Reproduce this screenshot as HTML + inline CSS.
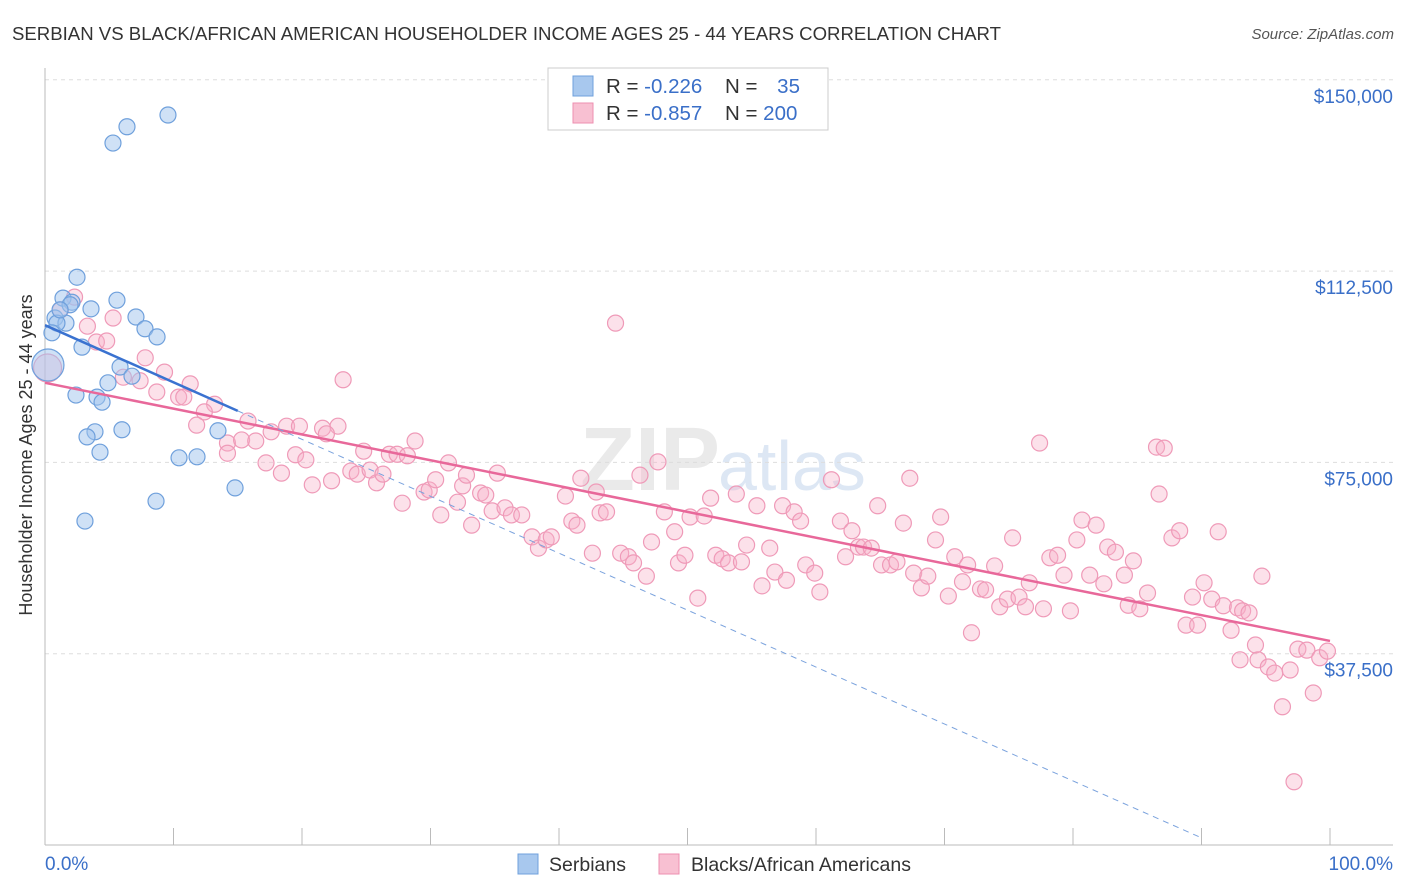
<!DOCTYPE html>
<html><head><meta charset="utf-8">
<style>
body{margin:0;background:#fff;font-family:"Liberation Sans",sans-serif;}
#wrap{position:relative;width:1406px;height:892px;overflow:hidden;}
</style></head>
<body>
<div id="wrap">
<svg id="chart" width="1406" height="892" xmlns="http://www.w3.org/2000/svg">
<text x="12" y="40" font-size="18" fill="#333" textLength="989" lengthAdjust="spacingAndGlyphs">SERBIAN VS BLACK/AFRICAN AMERICAN HOUSEHOLDER INCOME AGES 25 - 44 YEARS CORRELATION CHART</text>
<text x="1394" y="39" font-size="15" fill="#555" text-anchor="end" font-style="italic">Source: ZipAtlas.com</text>
<text x="720" y="490" font-size="90" fill="#ddd" text-anchor="end" font-weight="bold" opacity="0.6">ZIP</text>
<text x="718" y="490" font-size="70" fill="#c8d8ee" opacity="0.6">atlas</text>
<g id="grid"></g>
<g id="marks"></g>
<g id="trend"></g>
<text x="32" y="455" font-size="18" fill="#333" text-anchor="middle" transform="rotate(-90 32 455)">Householder Income Ages 25 - 44 years</text>
<text x="45" y="870" font-size="19" fill="#3a6fc8">0.0%</text>
<text x="1393" y="870" font-size="19" fill="#3a6fc8" text-anchor="end">100.0%</text>
<g>
<rect x="548" y="68" width="280" height="62" fill="#fff" stroke="#ccc"/>
<rect x="573" y="76" width="20" height="20" fill="#a8c8ee" stroke="#6fa0dc"/>
<rect x="573" y="103" width="20" height="20" fill="#f8c0d2" stroke="#ee8fb0"/>
<text x="606" y="93" font-size="20.5" fill="#333">R = <tspan fill="#3a6fc8">-0.226</tspan></text>
<text x="725" y="93" font-size="20.5" fill="#333">N = <tspan fill="#3a6fc8" dx="14">35</tspan></text>
<text x="606" y="120" font-size="20.5" fill="#333">R = <tspan fill="#3a6fc8">-0.857</tspan></text>
<text x="725" y="120" font-size="20.5" fill="#333">N = <tspan fill="#3a6fc8">200</tspan></text>
</g>
<g>
<rect x="518" y="854" width="20" height="20" fill="#a8c8ee" stroke="#6fa0dc"/>
<text x="549" y="871" font-size="19.5" fill="#333">Serbians</text>
<rect x="659" y="854" width="20" height="20" fill="#f8c0d2" stroke="#ee8fb0"/>
<text x="691" y="871" font-size="19.5" fill="#333">Blacks/African Americans</text>
</g>
</svg>
</div>
<script>
const yTicks=[37500,75000,112500,150000];
const yTickLabels=["$37,500","$75,000","$112,500","$150,000"];
const blueX=[9.57,6.38,5.29,2.49,1.40,2.10,5.60,3.58,7.08,0.78,1.63,0.93,7.78,8.72,0.54,2.88,5.84,4.90,6.77,2.41,4.05,4.44,5.99,3.89,3.27,4.28,13.46,10.43,11.83,8.64,14.79,3.11,0.23,1.95,1.17];
const blueY=[143.1,140.8,137.6,111.3,107.2,106.4,106.8,105.1,103.5,103.3,102.3,102.3,101.2,99.6,100.4,97.6,93.7,90.6,91.9,88.2,87.8,86.8,81.4,81.0,80.0,77.0,81.2,75.9,76.1,67.4,70.0,63.5,94.1,105.9,104.9];
const pinkX=[0.2,2.3,1.2,3.3,5.3,4.0,4.8,7.8,6.1,7.4,9.3,11.3,8.7,10.4,10.8,13.2,12.4,11.8,15.8,14.2,15.3,14.2,16.4,17.6,18.8,19.8,21.6,22.8,23.2,17.2,18.4,19.5,20.3,20.8,22.3,21.9,23.8,24.3,24.8,25.3,25.8,26.3,26.8,27.4,28.2,28.8,27.8,29.5,29.9,30.4,30.8,31.4,32.1,32.5,32.8,33.2,33.9,34.3,35.2,34.8,35.8,36.3,37.1,37.9,38.4,39.0,39.4,40.5,41.0,41.4,41.7,42.6,42.9,43.2,43.7,44.4,44.8,45.4,45.8,46.3,46.8,47.2,47.7,48.2,49.0,49.3,49.8,50.2,50.8,51.3,51.8,52.2,52.7,53.2,53.8,54.2,54.6,55.4,55.8,56.4,56.8,57.4,57.7,58.3,58.8,59.2,59.9,60.3,61.2,61.9,62.3,62.8,63.3,63.7,64.3,64.8,65.1,65.8,66.3,66.8,67.3,67.6,68.2,68.7,69.3,69.7,70.3,70.8,71.4,71.8,72.1,72.8,73.2,73.9,74.3,74.9,75.3,75.8,76.3,76.6,77.4,77.7,78.2,78.8,79.3,79.8,80.3,80.7,81.3,81.8,82.4,82.7,83.3,84.0,84.3,84.7,85.2,85.8,86.5,87.1,86.7,87.7,88.3,88.8,89.3,89.7,90.2,90.8,91.3,91.7,92.3,92.8,93.2,93.7,94.2,94.7,94.4,95.2,95.7,96.3,96.9,97.5,98.2,98.7,99.2,99.8,97.2,93.0];
const pinkY=[93.5,107.4,104.9,101.7,103.3,98.6,98.8,95.5,91.7,91.0,92.7,90.4,88.8,87.8,87.8,86.4,84.9,82.3,83.1,78.8,79.4,76.8,79.2,81.0,82.1,82.1,81.7,82.1,91.2,74.9,72.9,76.5,75.5,70.6,71.4,80.6,73.3,72.7,77.2,73.5,71.0,72.7,76.6,76.6,76.3,79.2,67.0,69.2,69.6,71.6,64.7,74.9,67.2,70.4,72.5,62.7,69.0,68.6,72.9,65.5,66.1,64.7,64.7,60.4,58.2,59.8,60.4,68.4,63.5,62.7,71.9,57.2,69.2,65.1,65.3,102.3,57.2,56.5,55.3,72.5,52.7,59.4,75.1,65.3,61.4,55.3,56.8,64.3,48.4,64.5,68.0,56.8,56.1,55.3,68.8,55.5,58.8,66.5,50.8,58.2,53.5,66.5,51.9,65.3,63.5,54.9,53.3,49.6,71.6,63.5,56.5,61.6,58.4,58.4,58.2,66.5,54.9,54.9,55.5,63.1,71.9,53.3,50.4,52.7,59.8,64.3,48.8,56.5,51.6,54.9,41.6,50.2,50.0,54.7,46.7,48.2,60.2,48.6,46.7,51.4,78.8,46.3,56.3,56.8,52.9,45.9,59.8,63.7,52.9,62.7,51.2,58.4,57.4,52.9,47.0,55.7,46.3,49.4,78.0,77.8,68.8,60.2,61.6,43.1,48.6,43.1,51.4,48.2,61.4,46.9,42.1,46.5,45.9,45.5,39.2,52.7,36.3,34.9,33.7,27.1,34.3,38.4,38.2,29.8,36.7,38.0,12.4,36.3];
const blueTrend=[0,101.9,15,85.1,90,1.4];
const pinkTrend=[0,90.6,100,40.0];
const NS="http://www.w3.org/2000/svg";
const X0=45,X1=1330,YB=845,PPK=191.3/37.5;
const xs=p=>X0+(X1-X0)*p/100;
const ys=k=>YB-k*PPK;
function mk(tag,attrs,parent){const e=document.createElementNS(NS,tag);for(const k in attrs)e.setAttribute(k,attrs[k]);parent.appendChild(e);return e;}
const grid=document.getElementById('grid'),marks=document.getElementById('marks'),trend=document.getElementById('trend');
yTicks.forEach((t,i)=>{
 const l=mk('line',{x1:X0,x2:1393,y1:ys(t/1000),y2:ys(t/1000),stroke:'#ddd','stroke-dasharray':'4,4'},grid);
 
 
 const tx=mk('text',{x:1393,y:ys(t/1000)+23,'font-size':19,fill:'#3a6fc8','text-anchor':'end'},grid);
 tx.textContent=yTickLabels[i];
 
 
});
const ax=mk('line',{x1:X0,x2:X0,y1:68,y2:YB,stroke:'#bbb'},grid);


const bx=mk('line',{x1:X0,x2:1393,y1:YB,y2:YB,stroke:'#bbb'},grid);


for(let i=0;i<=10;i++){const t=mk('line',{x1:xs(i*10),x2:xs(i*10),y1:828,y2:YB,stroke:'#bbb'},grid);
 
 }
pinkX.forEach((p,i)=>{const c=mk('circle',{cx:xs(p),cy:ys(pinkY[i]),r:i===0?14:8,fill:'rgba(248,176,200,0.38)',stroke:'#ef9ab8','stroke-width':1.2},marks);
 
 });
blueX.forEach((p,i)=>{const c=mk('circle',{cx:xs(p),cy:ys(blueY[i]),r:i===32?16:8,fill:'rgba(160,195,238,0.5)',stroke:'#6fa0dc','stroke-width':1.2},marks);
 
 });
const pl=mk('line',{x1:xs(pinkTrend[0]),y1:ys(pinkTrend[1]),x2:xs(pinkTrend[2]),y2:ys(pinkTrend[3]),stroke:'#e8689a','stroke-width':2.5},trend);


const bl=mk('line',{x1:xs(blueTrend[0]),y1:ys(blueTrend[1]),x2:xs(blueTrend[2]),y2:ys(blueTrend[3]),stroke:'#3a72d0','stroke-width':2.5},trend);


const bd=mk('line',{x1:xs(blueTrend[2]),y1:ys(blueTrend[3]),x2:xs(blueTrend[4]),y2:ys(blueTrend[5]),stroke:'#7aa2dd','stroke-width':1,'stroke-dasharray':'6,5'},trend);


</script>
</body></html>
